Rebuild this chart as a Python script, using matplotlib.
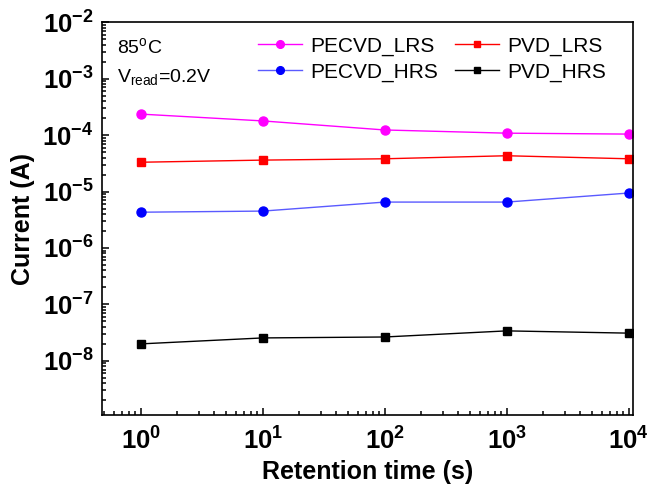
import matplotlib
matplotlib.use("Agg")
import matplotlib.pyplot as plt
from matplotlib.ticker import LogLocator, FixedLocator, NullFormatter

plt.rcParams["font.family"] = ["Liberation Sans", "DejaVu Sans"]
plt.rcParams["mathtext.fontset"] = "custom"
plt.rcParams["mathtext.rm"] = "Liberation Sans"
plt.rcParams["mathtext.bf"] = "Liberation Sans:bold"

# data
time_s = [1, 10, 100, 1000, 10000]
pecvd_lrs = [2.35e-4, 1.78e-4, 1.23e-4, 1.08e-4, 1.04e-4]
pvd_lrs = [3.3e-5, 3.6e-5, 3.8e-5, 4.3e-5, 3.8e-5]
pecvd_hrs = [4.3e-6, 4.5e-6, 6.5e-6, 6.5e-6, 9.4e-6]
pvd_hrs = [2.0e-8, 2.55e-8, 2.65e-8, 3.4e-8, 3.1e-8]

x_ticks = [1, 10, 100, 1000, 10000]
x_tick_labels = [r"$\mathbf{10^{0}}$", r"$\mathbf{10^{1}}$", r"$\mathbf{10^{2}}$",
                 r"$\mathbf{10^{3}}$", r"$\mathbf{10^{4}}$"]
y_ticks = [1e-8, 1e-7, 1e-6, 1e-5, 1e-4, 1e-3, 1e-2]
y_tick_labels = [r"$\mathbf{10^{-8}}$", r"$\mathbf{10^{-7}}$", r"$\mathbf{10^{-6}}$",
                 r"$\mathbf{10^{-5}}$", r"$\mathbf{10^{-4}}$", r"$\mathbf{10^{-3}}$",
                 r"$\mathbf{10^{-2}}$"]

fig = plt.figure(figsize=(6.49, 4.92), dpi=100)
ax = fig.add_axes([0.157, 0.1565, 0.818, 0.7985])

l1, = ax.plot(time_s, pecvd_lrs, color="#FF00FF", marker="o", ms=6.5, lw=1.0,
              label="PECVD_LRS")
l2, = ax.plot(time_s, pvd_lrs, color="#FF0000", marker="s", ms=5.5, lw=1.0,
              label="PVD_LRS")
l3, = ax.plot(time_s, pecvd_hrs, color="#5A5AFF", marker="o", ms=6.5, lw=1.0,
              mfc="#0000FF", mec="#0000FF", label="PECVD_HRS")
l4, = ax.plot(time_s, pvd_hrs, color="#000000", marker="s", ms=5.5, lw=1.0,
              label="PVD_HRS")

ax.set_xscale("log")
ax.set_yscale("log")
ax.set_xlim(0.48, 1.08e4)
ax.set_ylim(1.1e-9, 1e-2)

ax.xaxis.set_major_locator(FixedLocator(x_ticks))
ax.set_xticklabels(x_tick_labels)
ax.xaxis.set_minor_locator(LogLocator(base=10, subs=range(2, 10)))
ax.xaxis.set_minor_formatter(NullFormatter())
ax.yaxis.set_major_locator(FixedLocator(y_ticks))
ax.set_yticklabels(y_tick_labels)
ax.yaxis.set_minor_locator(LogLocator(base=10, subs=range(2, 10)))
ax.yaxis.set_minor_formatter(NullFormatter())

ax.tick_params(which="both", direction="in", top=False, right=False,
               labelsize=18.5, width=1.1)
ax.tick_params(which="major", length=5)
ax.tick_params(axis="x", which="major", pad=9)
ax.tick_params(axis="y", which="major", pad=6)
ax.tick_params(which="minor", length=3)
for s in ax.spines.values():
    s.set_linewidth(1.2)

ax.set_xlabel("Retention time (s)", fontsize=18, fontweight="bold", labelpad=4)
ax.set_ylabel("Current (A)", fontsize=18, fontweight="bold", labelpad=5)

ax.text(0.028, 0.935, "85$^{\\mathrm{o}}$C", transform=ax.transAxes,
        fontsize=14, va="center", ha="left")
ax.text(0.028, 0.857, "V$_{\\mathrm{read}}$=0.2V", transform=ax.transAxes,
        fontsize=14, va="center", ha="left")

ax.legend([l1, l3, l2, l4], ["PECVD_LRS", "PECVD_HRS", "PVD_LRS", "PVD_HRS"],
          ncol=2, frameon=False, loc="upper right", fontsize=15,
          bbox_to_anchor=(0.966, 0.985), borderaxespad=0, handlelength=2.1,
          handletextpad=0.4, columnspacing=0.85, labelspacing=0.33,
          markerscale=0.85)

fig.savefig("out.png", dpi=100)
